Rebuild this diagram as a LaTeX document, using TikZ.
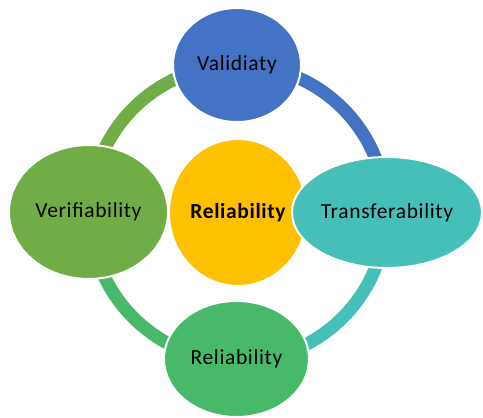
\documentclass[tikz,border=0pt]{standalone}
\usepackage{fontspec}
\setmainfont{Carlito}[LetterSpace=3]
\usepackage{xcolor}
\usetikzlibrary{shapes.geometric}

\definecolor{valblue}{HTML}{4472C4}
\definecolor{transteal}{HTML}{45BFB8}
\definecolor{relgreen}{HTML}{48B86A}
\definecolor{vergreen}{HTML}{70AD47}
\definecolor{coreyellow}{HTML}{FFC000}

\tikzset{
  bubble/.style={ellipse, draw=white, line width=2pt, inner sep=0pt,
    font=\fontsize{21.5}{25}\selectfont},
  ringpart/.style={line width=13pt}
}

\begin{document}
\begin{tikzpicture}[x=1pt, y=-1pt]
    \useasboundingbox (0,0) rectangle (483,418);

    % Ring behind the bubbles
    \coordinate (ring) at (238,213);
    \draw[ringpart, valblue] ([shift={(90:148pt)}]ring) arc[start angle=90, end angle=0, radius=148pt];
    \draw[ringpart, transteal] ([shift={(0:148pt)}]ring) arc[start angle=0, end angle=-90, radius=148pt];
    \draw[ringpart, relgreen] ([shift={(-90:148pt)}]ring) arc[start angle=-90, end angle=-180, radius=148pt];
    \draw[ringpart, vergreen] ([shift={(180:148pt)}]ring) arc[start angle=180, end angle=90, radius=148pt];

    % Centre
    \node[bubble, fill=coreyellow, minimum width=138pt, minimum height=147pt] (core) at (238,212.5) {\bfseries Reliability};

    % Outer bubbles
    \node[bubble, fill=vergreen, minimum width=159pt, minimum height=134pt] (verif) at (88.5,212) {Verifiability};
    \node[bubble, fill=valblue, minimum width=128pt, minimum height=114pt] (valid) at (237,65) {Validiaty};
    \node[bubble, fill=relgreen, minimum width=145pt, minimum height=116pt] (relia) at (236.5,359) {Reliability};
    \node[bubble, fill=transteal, minimum width=190pt, minimum height=111pt] (trans) at (387,212.5) {Transferability};
\end{tikzpicture}
\end{document}
